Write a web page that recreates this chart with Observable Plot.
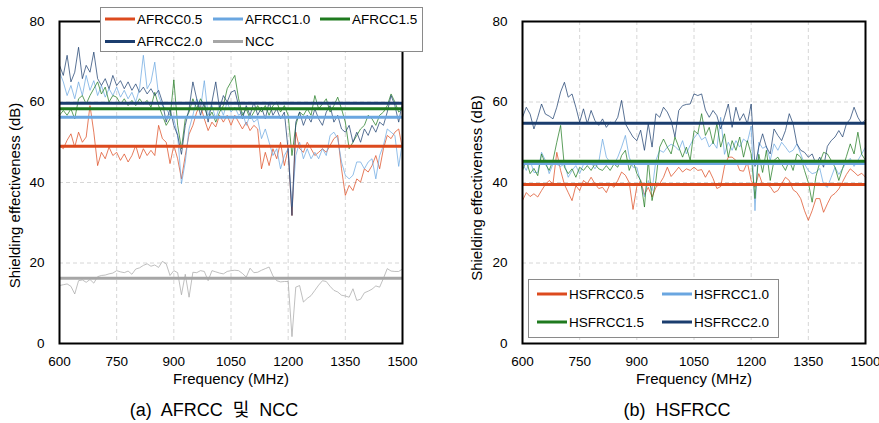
<!DOCTYPE html>
<html>
<head>
<meta charset="utf-8">
<script src="https://cdn.jsdelivr.net/npm/d3@7"></script>
<script src="https://cdn.jsdelivr.net/npm/@observablehq/plot@0.6"></script>
<style>
  body { margin: 0; background: #fff; }
  #wrap { position: relative; width: 879px; height: 423px; overflow: hidden; background: #fff; }
</style>
</head>
<body>
<div id="wrap"></div>
<script>
// ---------- data ----------
const freq = d3.range(600, 1501, 10); // MHz, 10 MHz steps
const xTicks = [600, 750, 900, 1050, 1200, 1350, 1500];
const yTicks = [0, 20, 40, 60, 80];
const xGrid = [750, 900, 1050, 1200, 1350];
const yGrid = [20, 40, 60];

const namesA = ["AFRCC0.5", "AFRCC1.0", "AFRCC1.5", "AFRCC2.0", "NCC"];
const namesB = ["HSFRCC0.5", "HSFRCC1.0", "HSFRCC1.5", "HSFRCC2.0"];

const afrcc05 = [
  49.2, 48.4, 50.5, 52.1, 48.8, 52.5, 50.0, 51.3, 59.1, 52.5,
  44.2, 47.5, 45.9, 48.8, 46.7, 47.5, 45.5, 47.1, 45.1, 46.7,
  49.2, 45.9, 48.4, 46.7, 48.0, 46.7, 54.2, 50.9, 50.0, 44.7,
  49.2, 45.9, 40.9, 46.7, 52.0, 54.2, 57.5, 59.1, 55.8, 52.9,
  55.0, 53.8, 56.7, 55.0, 56.7, 54.2, 56.7, 55.0, 53.3, 55.0,
  52.9, 54.2, 53.3, 43.4, 47.5, 44.2, 48.4, 45.9, 50.0, 44.2,
  48.4, 31.8, 52.5, 48.4, 47.5, 50.0, 48.4, 46.7, 47.5, 48.4,
  47.5, 49.2, 50.9, 51.7, 43.4, 36.8, 39.3, 38.0, 40.9, 40.1,
  43.4, 42.6, 44.2, 46.7, 43.4, 48.4, 51.7, 50.9, 52.5, 53.3,
  48.4];
const afrcc10 = [
  67.4, 65.0, 61.6, 64.1, 60.8, 65.0, 61.6, 66.6, 62.9, 65.3,
  61.6, 64.1, 61.2, 63.3, 61.6, 63.7, 61.2, 62.9, 60.8, 62.4,
  60.0, 63.3, 71.6, 63.3, 65.0, 69.9, 61.6, 59.1, 58.3, 56.7,
  55.8, 51.7, 39.7, 45.1, 53.3, 56.7, 60.8, 58.3, 65.3, 56.7,
  59.1, 55.8, 59.1, 56.7, 60.0, 57.5, 58.7, 56.7, 57.5, 54.2,
  56.7, 55.0, 55.8, 50.9, 53.3, 50.0, 46.7, 48.4, 43.4, 46.7,
  48.4, 34.0, 46.7, 50.0, 45.9, 48.4, 45.9, 47.5, 45.9, 48.4,
  46.7, 51.7, 52.5, 50.9, 45.1, 41.8, 40.9, 41.8, 45.1, 45.1,
  43.4, 45.1, 45.9, 40.9, 46.7, 49.2, 53.3, 52.5, 51.7, 44.0,
  50.0];
const afrcc15 = [
  56.7, 57.9, 56.7, 58.3, 55.8, 60.8, 61.6, 59.5, 61.6, 63.3,
  65.0, 62.0, 63.7, 60.0, 61.6, 61.2, 59.5, 60.8, 59.1, 60.4,
  59.1, 60.8, 59.5, 60.4, 58.7, 62.4, 59.1, 56.7, 54.2, 55.8,
  65.5, 54.2, 48.4, 55.8, 57.5, 60.8, 58.3, 60.8, 59.1, 55.8,
  57.5, 55.0, 57.5, 59.1, 63.3, 65.0, 66.6, 60.8, 56.7, 58.3,
  55.8, 57.5, 59.1, 57.5, 59.1, 56.7, 59.1, 60.0, 57.5, 59.1,
  56.7, 46.7, 54.2, 57.5, 56.7, 58.3, 56.7, 61.6, 58.3, 59.5,
  60.8, 57.5, 59.1, 61.2, 58.3, 55.0, 48.4, 50.0, 51.7, 53.3,
  54.2, 56.7, 55.8, 54.2, 56.7, 57.5, 59.1, 62.0, 60.0, 57.5,
  58.3];
const afrcc20 = [
  69.1, 66.6, 71.6, 65.0, 67.4, 73.6, 65.8, 69.1, 67.4, 72.4,
  65.8, 64.1, 65.8, 63.3, 66.6, 64.1, 65.3, 63.3, 65.0, 62.9,
  64.5, 62.4, 63.7, 62.0, 63.3, 61.6, 62.9, 60.0, 55.0, 58.3,
  54.2, 51.7, 47.0, 54.2, 58.3, 65.0, 60.8, 56.7, 60.0, 55.0,
  60.0, 65.0, 58.3, 61.6, 60.0, 62.4, 62.9, 59.1, 55.8, 59.1,
  56.7, 60.0, 56.7, 58.7, 55.8, 60.0, 56.7, 58.3, 55.8, 57.5,
  48.0, 31.8, 55.0, 57.5, 54.2, 56.7, 55.0, 58.3, 55.8, 54.2,
  57.5, 59.1, 55.0, 56.7, 53.3, 52.5, 54.2, 50.0, 52.5, 50.0,
  53.3, 51.7, 54.2, 52.5, 55.0, 54.2, 57.5, 61.6, 59.1, 55.0,
  60.0];
const ncc = [
  14.4, 14.6, 14.8, 14.2, 12.3, 15.6, 15.8, 15.2, 15.9, 15.0,
  16.6, 16.9, 17.0, 17.3, 17.5, 18.1, 17.8, 17.6, 18.0, 17.2,
  18.5, 18.8, 19.4, 19.8, 19.2, 19.5, 18.9, 20.4, 19.8, 16.9,
  18.1, 17.6, 12.1, 17.2, 11.5, 17.7, 17.6, 18.1, 17.9, 15.6,
  18.1, 17.8, 17.5, 17.3, 17.9, 18.1, 18.2, 18.1, 17.4, 16.5,
  18.7, 17.6, 17.7, 18.2, 18.6, 19.0, 16.8, 15.6, 15.3, 15.4,
  15.4, 1.7, 14.0, 14.4, 10.3, 11.2, 11.9, 13.2, 14.5, 15.6,
  15.4, 14.2, 13.2, 12.8, 12.0, 11.8, 11.5, 13.6, 10.7, 11.0,
  12.6, 13.0, 13.5, 14.3, 14.0, 16.2, 18.6, 18.0, 17.9, 17.9,
  18.5];

const hsfrcc05 = [
  35.5, 37.5, 36.5, 37.2, 36.4, 38.0, 39.5, 40.5, 39.7, 47.5,
  43.0, 39.5, 37.5, 35.5, 39.2, 38.0, 40.5, 39.7, 41.3, 39.7,
  38.5, 38.8, 37.5, 39.7, 38.8, 40.5, 42.6, 41.8, 40.0, 33.3,
  39.0, 40.5, 37.0, 38.8, 36.4, 38.8, 39.7, 41.3, 43.8, 41.5,
  42.6, 43.8, 42.6, 43.4, 43.0, 43.8, 43.0, 43.2, 41.3, 43.0,
  41.0, 38.5, 39.0, 44.0, 46.3, 46.3, 45.5, 43.0, 42.8, 45.0,
  40.5, 38.8, 42.2, 39.5, 39.5, 39.0, 37.5, 38.0, 39.7, 41.3,
  40.5, 38.2, 37.5, 36.0, 33.0, 30.6, 33.0, 36.0, 36.0, 32.6,
  34.7, 36.6, 37.3, 38.4, 40.2, 42.0, 43.4, 42.6, 41.7, 42.3,
  41.3];
const hsfrcc10 = [
  44.6, 43.0, 45.5, 42.5, 42.5, 47.5, 45.5, 42.2, 44.6, 44.5,
  44.0, 44.6, 41.3, 43.0, 44.2, 42.2, 44.5, 44.5, 45.0, 43.4,
  45.0, 50.8, 46.3, 45.0, 44.5, 46.3, 48.8, 51.7, 46.3, 43.8,
  43.8, 40.0, 36.5, 40.5, 38.0, 45.5, 48.0, 47.5, 48.8, 49.5,
  49.0, 48.0, 50.4, 47.1, 49.3, 51.0, 52.3, 50.6, 51.3, 48.8,
  50.0, 48.5, 56.2, 47.0, 50.0, 48.0, 50.4, 48.8, 50.8, 50.0,
  54.0, 33.0, 50.0, 48.5, 49.0, 45.5, 49.6, 48.0, 50.0, 48.8,
  47.5, 48.0, 49.6, 47.1, 44.6, 43.0, 42.2, 42.5, 43.5, 39.5,
  38.8, 41.3, 43.8, 42.0, 43.5, 45.0, 46.0, 44.0, 45.5, 47.1,
  48.8];
const hsfrcc15 = [
  43.0, 45.5, 42.2, 43.5, 41.7, 47.1, 44.6, 43.0, 45.5, 50.0,
  54.2, 43.8, 42.2, 43.4, 41.3, 43.8, 43.0, 44.2, 43.0, 44.6,
  43.4, 43.0, 44.2, 43.0, 44.6, 43.8, 46.7, 48.0, 43.0, 45.5,
  42.2, 40.5, 33.9, 45.5, 35.5, 40.5, 48.8, 50.8, 48.8, 47.1,
  51.3, 48.8, 46.3, 48.8, 45.5, 52.9, 52.1, 57.1, 51.7, 53.7,
  49.6, 54.6, 48.8, 52.1, 46.3, 50.4, 48.0, 51.3, 46.3, 50.4,
  47.1, 36.0, 47.0, 42.5, 48.0, 40.5, 45.5, 46.3, 44.6, 43.0,
  45.5, 43.0, 47.1, 46.3, 43.0, 40.0, 35.1, 41.5, 45.0, 47.5,
  47.1, 45.5, 43.8, 40.5, 43.5, 46.5, 49.6, 47.1, 52.5, 47.0,
  45.5];
const hsfrcc20 = [
  56.2, 58.7, 57.0, 53.3, 56.2, 59.5, 57.0, 56.5, 55.8, 58.7,
  62.5, 64.9, 61.2, 62.0, 58.7, 55.0, 58.3, 54.6, 57.9, 55.4,
  54.2, 55.8, 53.7, 55.0, 54.6, 56.2, 60.4, 54.6, 52.9, 51.3,
  50.4, 53.0, 48.0, 54.6, 48.8, 57.1, 56.2, 58.7, 57.5, 55.4,
  51.3, 57.9, 59.1, 59.4, 59.5, 62.0, 61.6, 62.0, 58.0, 56.2,
  57.9, 56.6, 53.3, 56.2, 59.5, 53.7, 58.7, 55.4, 57.1, 54.6,
  59.5, 44.0, 48.8, 52.1, 48.8, 47.1, 53.3, 51.7, 50.4, 52.9,
  57.1, 54.6, 49.6, 48.0, 47.5, 46.3, 47.1, 44.6, 46.3, 43.8,
  49.0, 50.4, 51.3, 52.9, 51.3, 54.6, 55.8, 58.7, 56.2, 54.6,
  55.6];

// average lines
const meansA = [49.0, 56.2, 58.3, 59.7, 16.2];
const meansB = [39.5, 44.7, 45.3, 54.7];

const colorsA = ["#DC4A1E", "#6AA6E0", "#1F7A1F", "#1B3D6E", "#A6A6A6"];
const colorsB = ["#DC4A1E", "#6AA6E0", "#1F7A1F", "#1B3D6E"];

const xTitle = "Frequency (MHz)";
const yTitle = "Shielding effectiveness (dB)";
const captionA = "(a) AFRCC 및 NCC";
const captionB = "(b) HSFRCC";

// ---------- drawing ----------
const FONT = '"Liberation Sans", Arial, sans-serif';
const wrap = document.getElementById("wrap");

function panel(series, means, colors, left) {
  const svg = Plot.plot({
    width: 430, height: 390,
    marginLeft: 59, marginRight: 28, marginTop: 21, marginBottom: 47,
    x: {domain: [600, 1500], ticks: xTicks, tickSize: 0, tickPadding: 13, tickFormat: "d", label: null},
    y: {domain: [0, 80], ticks: yTicks, tickSize: 0, tickPadding: 15, tickFormat: "d", label: null},
    style: {fontFamily: FONT, fontSize: "13.5px", color: "#000", background: "transparent", overflow: "visible"},
    marks: [
      Plot.ruleX(xGrid, {stroke: "#d6d6d6", strokeDasharray: "4,3", strokeWidth: 1}),
      Plot.ruleY(yGrid, {stroke: "#d6d6d6", strokeDasharray: "4,3", strokeWidth: 1}),
      ...series.map((s, i) => Plot.line(s, {x: freq, y: d => d, stroke: colors[i], strokeWidth: 1, strokeOpacity: 0.72})),
      ...means.map((m, i) => Plot.ruleY([m], {stroke: colors[i], strokeWidth: 3})),
      Plot.frame({stroke: "#000", strokeWidth: 2})
    ]
  });
  svg.style.position = "absolute";
  svg.style.left = left + "px";
  svg.style.top = "0px";
  wrap.appendChild(svg);
}

panel([afrcc05, afrcc10, afrcc15, afrcc20, ncc], meansA, colorsA, 0);
panel([hsfrcc05, hsfrcc10, hsfrcc15, hsfrcc20], meansB, colorsB, 463);

// overlay: axis titles, legends, captions
const ov = d3.select(wrap).append("svg")
  .attr("width", 879).attr("height", 423)
  .style("position", "absolute").style("left", "0px").style("top", "0px")
  .style("font-family", FONT);

function titles(cx, yCx, yCy) {
  ov.append("text").attr("x", cx).attr("y", 384).attr("text-anchor", "middle")
    .attr("font-size", 15).attr("fill", "#000").text(xTitle);
  ov.append("text").attr("transform", `translate(${yCx},${yCy}) rotate(-90)`)
    .attr("text-anchor", "middle").attr("font-size", 15).attr("fill", "#000").text(yTitle);
}
titles(231, 19.5, 195.5);
titles(694, 482, 188);

function legend(box, items) {
  ov.append("rect").attr("x", box[0] + 0.5).attr("y", box[1] + 0.5).attr("width", box[2]).attr("height", box[3])
    .attr("fill", "#fff").attr("stroke", "#8a8a8a").attr("stroke-width", 1);
  items.forEach(it => {
    ov.append("line").attr("x1", it.x).attr("x2", it.x + 30).attr("y1", it.y).attr("y2", it.y)
      .attr("stroke", it.color).attr("stroke-width", 3);
    ov.append("text").attr("x", it.x + 32).attr("y", it.y + 4.8).attr("font-size", 13.5)
      .attr("fill", "#000").text(it.name);
  });
}
const legPosA = [[105, 19], [213, 19], [320, 19], [105, 41.5], [213, 41.5]];
legend([100, 7, 322, 44], namesA.map((n, i) => ({name: n, color: colorsA[i], x: legPosA[i][0], y: legPosA[i][1]})));
const legPosB = [[537, 294], [662, 294], [537, 322], [662, 322]];
legend([528, 279, 250, 58], namesB.map((n, i) => ({name: n, color: colorsB[i], x: legPosB[i][0], y: legPosB[i][1]})));

ov.append("text").attr("x", 214).attr("y", 416).attr("text-anchor", "middle")
  .attr("font-size", 18).attr("fill", "#000").style("word-spacing", "5px")
  .style("font-family", '"Liberation Sans", "Noto Sans CJK KR", sans-serif').text(captionA);
ov.append("text").attr("x", 677).attr("y", 416).attr("text-anchor", "middle")
  .attr("font-size", 18).attr("fill", "#000").style("word-spacing", "5px")
  .style("font-family", '"Liberation Sans", "Noto Sans CJK KR", sans-serif').text(captionB);
</script>
</body>
</html>
